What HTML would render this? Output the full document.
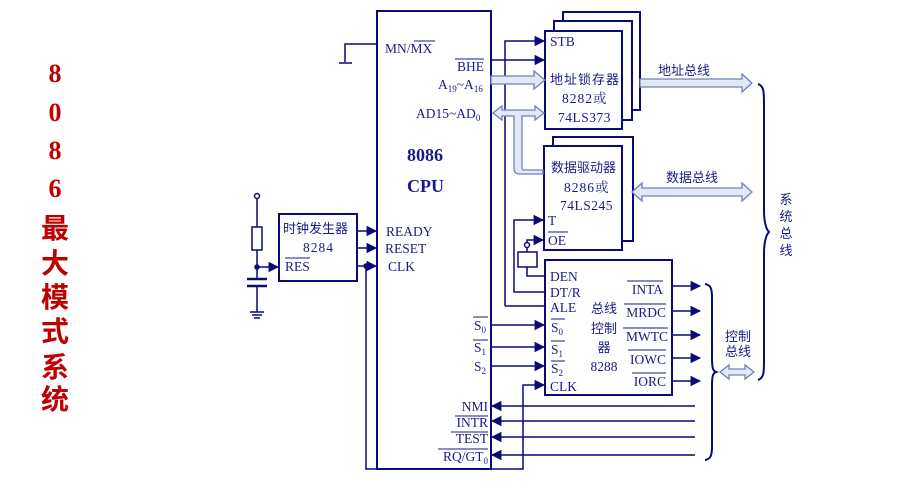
<!DOCTYPE html>
<html><head><meta charset="utf-8"><style>
html,body{margin:0;padding:0;background:#fff;}
svg{display:block;}
text{font-family:"Liberation Serif","Noto Serif CJK SC",serif;fill:#1a1a8a;font-size:13.5px;}
.cj{font-family:"Liberation Sans","Noto Sans CJK SC",sans-serif;font-size:13px;}
.red{fill:#c00000;font-weight:bold;}
</style></head><body>
<svg width="904" height="500" viewBox="0 0 904 500" xmlns="http://www.w3.org/2000/svg">
<defs>
<marker id="a" viewBox="0 0 10 10" refX="9" refY="5" markerWidth="7" markerHeight="7" orient="auto"><path d="M0,0L10,5L0,10z" fill="#0a0a78"/></marker>
</defs>
<g text-anchor="middle">
<text class="red" x="55" y="82" style="font-size:26px">8</text>
<text class="red" x="55" y="121" style="font-size:26px">0</text>
<text class="red" x="55" y="159" style="font-size:26px">8</text>
<text class="red" x="55" y="197" style="font-size:26px">6</text>
<text class="red cj" x="55" y="238" style="font-size:28px;font-weight:bold">最</text>
<text class="red cj" x="55" y="273" style="font-size:28px;font-weight:bold">大</text>
<text class="red cj" x="55" y="307" style="font-size:28px;font-weight:bold">模</text>
<text class="red cj" x="55" y="341" style="font-size:28px;font-weight:bold">式</text>
<text class="red cj" x="55" y="377" style="font-size:28px;font-weight:bold">系</text>
<text class="red cj" x="55" y="409" style="font-size:28px;font-weight:bold">统</text>
</g>
<g fill="none" stroke="#0a0a78" stroke-width="2">
<rect x="377" y="11" width="114" height="458"/>
<rect x="563" y="12" width="77" height="98" fill="#fff"/>
<rect x="554" y="21" width="78" height="99" fill="#fff"/>
<rect x="545" y="31" width="77" height="98" fill="#fff"/>
<rect x="553" y="137" width="80" height="104" fill="#fff"/>
<rect x="544" y="146" width="78" height="104" fill="#fff"/>
<rect x="545" y="260" width="127" height="135"/>
<rect x="279" y="214" width="78" height="67"/>
</g>
<g fill="none" stroke="#0a0a78" stroke-width="1.5">
<path d="M377,44H345V62M339,63H352"/>
<path d="M505,306V41H544" marker-end="url(#a)"/>
<path d="M491,60H544" marker-end="url(#a)"/>
<path d="M545,292H514V220H543" marker-end="url(#a)"/>
<path d="M527,252V247"/>
<circle cx="527" cy="245" r="2.5" fill="#fff"/>
<path d="M527,243V240H543" marker-end="url(#a)"/>
<rect x="518" y="252" width="19" height="15"/>
<path d="M527,267V276H545M505,306H545"/>
<path d="M491,366H544" marker-end="url(#a)"/>
<path d="M491,325H544" marker-end="url(#a)"/>
<path d="M491,347H544" marker-end="url(#a)"/>
<path d="M366,266V469H523V385H544" marker-end="url(#a)"/>
<path d="M672,286H700" marker-end="url(#a)"/>
<path d="M672,311H700" marker-end="url(#a)"/>
<path d="M672,335H700" marker-end="url(#a)"/>
<path d="M672,358H700" marker-end="url(#a)"/>
<path d="M672,381H700" marker-end="url(#a)"/>
<path d="M695,406H492" marker-end="url(#a)"/>
<path d="M695,421H492" marker-end="url(#a)"/>
<path d="M695,437H492" marker-end="url(#a)"/>
<path d="M695,455H492" marker-end="url(#a)"/>
<path d="M357,231H376" marker-end="url(#a)"/>
<path d="M357,248H376" marker-end="url(#a)"/>
<path d="M357,266H376" marker-end="url(#a)"/>
<circle cx="366" cy="266" r="2" fill="#0a0a78"/>
<path d="M257,198V227M257,250V279M257,286V312M250,312H264M252,315H262M254,318H260"/>
<circle cx="257" cy="196" r="2.5" fill="#fff"/>
<rect x="252" y="227" width="10" height="23"/>
<path d="M247,279H267M247,286H267" stroke-width="2.5"/>
<circle cx="257" cy="267" r="2" fill="#0a0a78"/>
<path d="M257,267H278" marker-end="url(#a)"/>
<path d="M758,84c6,2 6,8 6,20v105c0,12 2,20 5,23c-3,3 -5,11 -5,23v105c0,12 0,18 -6,20" stroke-width="2"/>
<path d="M705,284c6,1 7,5 7,14v60c0,10 1,13 4,14c-3,1 -4,4 -4,14v60c0,9 -1,13 -7,14" stroke-width="2"/>
</g>
<g fill="#e2e8f6" stroke="#7080b8" stroke-width="1.3">
<path d="M491,76H534V71L545,80L534,89V84H491Z"/>
<path d="M493,113L502,106V110H535V106L544,113L535,120V116H522V168Q522,170 524,170H543V174H520Q514,174 514,168V116H502V120Z"/>
<path d="M640,79H742V74L752,83L742,92V87H640Z"/>
<path d="M632,192L642,183V188H742V183L752,192L742,201V196H642V201Z"/>
<path d="M720,372L729,365V369H745V365L754,372L745,379V375H729V379Z"/>
</g>
<text x="385" y="53">MN/MX</text>
<path d="M414,41H435" stroke="#1a1a8a" stroke-width="1"/>
<text x="484" y="71" text-anchor="end">BHE</text>
<path d="M455,59H484" stroke="#1a1a8a" stroke-width="1"/>
<text x="438" y="89">A<tspan font-size="9" dy="3">19</tspan><tspan dy="-3">~A</tspan><tspan font-size="9" dy="3">16</tspan></text>
<text x="416" y="118">AD15~AD<tspan font-size="9" dy="3">0</tspan></text>
<text x="407" y="161" style="font-size:18px;font-weight:bold">8086</text>
<text x="407" y="192" style="font-size:18px;font-weight:bold">CPU</text>
<text x="386" y="236">READY</text>
<text x="385" y="253">RESET</text>
<text x="388" y="271">CLK</text>
<text class="cj" x="283" y="233">时钟发生器</text>
<text x="303" y="252" letter-spacing="1">8284</text>
<text x="285" y="271">RES</text>
<path d="M285,258H310" stroke="#1a1a8a" stroke-width="1"/>
<text x="550" y="46">STB</text>
<text class="cj" x="550" y="84" letter-spacing="1">地址锁存器</text>
<text x="562" y="103" letter-spacing="1">8282或</text>
<text x="558" y="122" letter-spacing="0.5">74LS373</text>
<text class="cj" x="551" y="172">数据驱动器</text>
<text x="564" y="192" letter-spacing="1">8286或</text>
<text x="560" y="210" letter-spacing="0.5">74LS245</text>
<text x="548" y="225">T</text>
<text x="548" y="245">OE</text>
<path d="M548,232H568" stroke="#1a1a8a" stroke-width="1"/>
<text x="550" y="281">DEN</text>
<text x="550" y="297">DT/R</text>
<text x="550" y="312">ALE</text>
<text x="551" y="332">S<tspan font-size="9" dy="3">0</tspan></text>
<text x="551" y="354">S<tspan font-size="9" dy="3">1</tspan></text>
<text x="551" y="373">S<tspan font-size="9" dy="3">2</tspan></text>
<path d="M551,319H565M551,341H565M551,361H565" stroke="#1a1a8a" stroke-width="1"/>
<text x="550" y="391">CLK</text>
<text class="cj" x="604" y="313" text-anchor="middle">总线</text>
<text class="cj" x="604" y="333" text-anchor="middle">控制</text>
<text class="cj" x="604" y="352" text-anchor="middle">器</text>
<text x="604" y="371" text-anchor="middle">8288</text>
<g text-anchor="end">
<text x="663" y="294">INTA</text>
<text x="666" y="317">MRDC</text>
<text x="668" y="341">MWTC</text>
<text x="666" y="364">IOWC</text>
<text x="666" y="386">IORC</text>
<text x="486" y="330">S<tspan font-size="9" dy="3">0</tspan></text>
<text x="486" y="352">S<tspan font-size="9" dy="3">1</tspan></text>
<text x="486" y="371">S<tspan font-size="9" dy="3">2</tspan></text>
<text x="488" y="411">NMI</text>
<text x="488" y="427">INTR</text>
<text x="488" y="443">TEST</text>
<text x="488" y="461">RQ/GT<tspan font-size="9" dy="3">0</tspan></text>
</g>
<g stroke="#1a1a8a" stroke-width="1">
<path d="M627,281H663M624,304H666M623,328H668M628,350H666M632,373H666"/>
<path d="M473,317H488M473,340H488"/>
<path d="M455,416H488M451,432H488M438,449H488"/>
</g>
<text class="cj" x="658" y="75">地址总线</text>
<text class="cj" x="666" y="182">数据总线</text>
<text class="cj" x="738" y="341" text-anchor="middle">控制</text>
<text class="cj" x="738" y="356" text-anchor="middle">总线</text>
<g text-anchor="middle">
<text class="cj" x="786" y="204">系</text>
<text class="cj" x="786" y="221">统</text>
<text class="cj" x="786" y="238">总</text>
<text class="cj" x="786" y="255">线</text>
</g>
</svg>
</body></html>
